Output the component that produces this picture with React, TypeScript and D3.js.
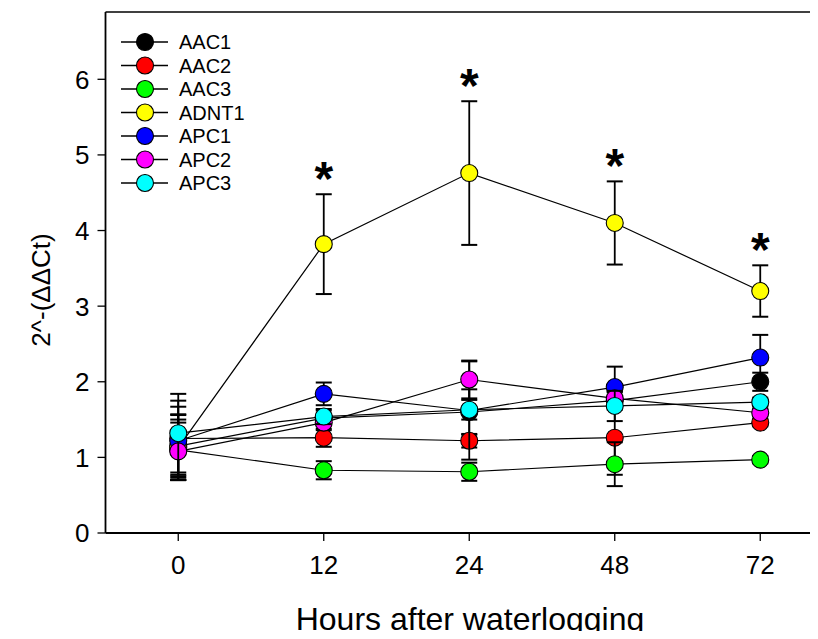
import React from "react";
import * as d3 from "d3";

// Sampling times (hours after waterlogging)
const timeLabels = ["0", "12", "24", "48", "72"];
const seriesNames = ["AAC1", "AAC2", "AAC3", "ADNT1", "APC1", "APC2", "APC3"];
const seriesColors = ["#000000", "#ff0000", "#00ff00", "#ffff00", "#0000ff", "#ff00ff", "#00ffff"];

// Relative expression, 2^-(ΔΔCt)
const aac1 = [1.15, 1.52, 1.6, 1.75, 2.0];
const aac2 = [1.25, 1.26, 1.22, 1.26, 1.46];
const aac3 = [1.1, 0.83, 0.81, 0.91, 0.97];
const adnt1 = [1.13, 3.82, 4.76, 4.1, 3.2];
const apc1 = [1.22, 1.84, 1.62, 1.93, 2.32];
const apc2 = [1.08, 1.46, 2.03, 1.78, 1.59];
const apc3 = [1.32, 1.54, 1.63, 1.68, 1.73];

// Standard errors
const aac1Err = [0.42, 0.1, 0.3, 0.12, 0.12];
const aac2Err = [0.5, 0.12, 0.09, 0.49, 0.05];
const aac3Err = [0.4, 0.12, 0.12, 0.29, 0.05];
const adnt1Err = [0.43, 0.66, 0.95, 0.55, 0.34];
const apc1Err = [0.45, 0.15, 0.65, 0.27, 0.3];
const apc2Err = [0.38, 0.1, 0.25, 0.08, 0.05];
const apc3Err = [0.52, 0.1, 0.13, 0.2, 0.06];

const seriesValues = [aac1, aac2, aac3, adnt1, apc1, apc2, apc3];
const seriesErrors = [aac1Err, aac2Err, aac3Err, adnt1Err, apc1Err, apc2Err, apc3Err];

// Significance markers on ADNT1
const starIndices = [1, 2, 3, 4];

const yTicks = [0, 1, 2, 3, 4, 5, 6];

const W = 818;
const H = 639;
const FONT = "Arial, 'Liberation Sans', sans-serif";

export default function App() {
  const left = 105.5;
  const top = 12;
  const bottom = 533;
  const step = 145.5;

  const x = d3.scaleLinear().domain([-0.5, 4.5]).range([left, left + step * 5]);
  const y = d3.scaleLinear().domain([0, 6.89]).range([bottom, top]);

  const line = d3
    .line<number>()
    .x((_, i) => x(i))
    .y((v) => y(v));

  const capHalf = 8;
  const r = 8.5;

  return (
    <div style={{ margin: -8, width: W, height: H, overflow: "hidden" }}>
      <svg width={W} height={H} style={{ display: "block", background: "#fff" }}>
        {/* plot frame: left, top and bottom edges */}
        <line x1={left} x2={W + 2} y1={top} y2={top} stroke="#000" strokeWidth={1.6} />
        <line x1={left} x2={W + 2} y1={bottom} y2={bottom} stroke="#000" strokeWidth={1.8} />
        <line x1={left} x2={left} y1={top} y2={bottom} stroke="#000" strokeWidth={1.8} />

        {/* y axis ticks */}
        {yTicks.map((t) => (
          <g key={t}>
            <line x1={left - 8} x2={left} y1={y(t)} y2={y(t)} stroke="#000" strokeWidth={1.3} />
            <text
              x={left - 16}
              y={y(t)}
              dy="0.36em"
              textAnchor="end"
              fontFamily={FONT}
              fontSize={26}
            >
              {t}
            </text>
          </g>
        ))}

        {/* x axis ticks */}
        {timeLabels.map((lab, i) => (
          <g key={lab}>
            <line x1={x(i)} x2={x(i)} y1={bottom} y2={bottom + 8} stroke="#000" strokeWidth={1.3} />
            <text
              x={x(i)}
              y={bottom + 32}
              dy="0.36em"
              textAnchor="middle"
              fontFamily={FONT}
              fontSize={26}
            >
              {lab}
            </text>
          </g>
        ))}

        {/* axis titles */}
        <text x={470} y={630} textAnchor="middle" fontFamily={FONT} fontSize={32}>
          Hours after waterlogging
        </text>
        <text
          transform={`translate(50, 290) rotate(-90)`}
          textAnchor="middle"
          fontFamily={FONT}
          fontSize={26}
        >
          2^-(ΔΔCt)
        </text>

        {/* series: line, error bars, symbols */}
        {seriesValues.map((vals, s) => (
          <g key={seriesNames[s]}>
            <path d={line(vals) ?? ""} fill="none" stroke="#000" strokeWidth={1.2} />
            {vals.map((v, i) => {
              const e = seriesErrors[s][i];
              const cx = x(i);
              return (
                <g key={i}>
                  <line x1={cx} x2={cx} y1={y(v + e)} y2={y(v - e)} stroke="#000" strokeWidth={1.8} />
                  <line
                    x1={cx - capHalf}
                    x2={cx + capHalf}
                    y1={y(v + e)}
                    y2={y(v + e)}
                    stroke="#000"
                    strokeWidth={2}
                  />
                  <line
                    x1={cx - capHalf}
                    x2={cx + capHalf}
                    y1={y(v - e)}
                    y2={y(v - e)}
                    stroke="#000"
                    strokeWidth={2}
                  />
                </g>
              );
            })}
            {vals.map((v, i) => (
              <circle
                key={`c${i}`}
                cx={x(i)}
                cy={y(v)}
                r={r}
                fill={seriesColors[s]}
                stroke="#000"
                strokeWidth={1.1}
              />
            ))}
          </g>
        ))}

        {/* significance stars */}
        {starIndices.map((i) => (
          <text
            key={`s${i}`}
            x={x(i)}
            y={y(adnt1[i] + adnt1Err[i]) - 29}
            dy="0.62em"
            textAnchor="middle"
            fontFamily={FONT}
            fontWeight="bold"
            fontSize={48}
          >
            *
          </text>
        ))}

        {/* legend */}
        {seriesNames.map((name, s) => {
          const ly = 42 + s * 23.5;
          return (
            <g key={`l${name}`}>
              <line x1={121} x2={168} y1={ly} y2={ly} stroke="#000" strokeWidth={1.5} />
              <circle cx={145} cy={ly} r={r} fill={seriesColors[s]} stroke="#000" strokeWidth={1.1} />
              <text x={179} y={ly} dy="0.36em" fontFamily={FONT} fontSize={20}>
                {name}
              </text>
            </g>
          );
        })}
      </svg>
    </div>
  );
}
